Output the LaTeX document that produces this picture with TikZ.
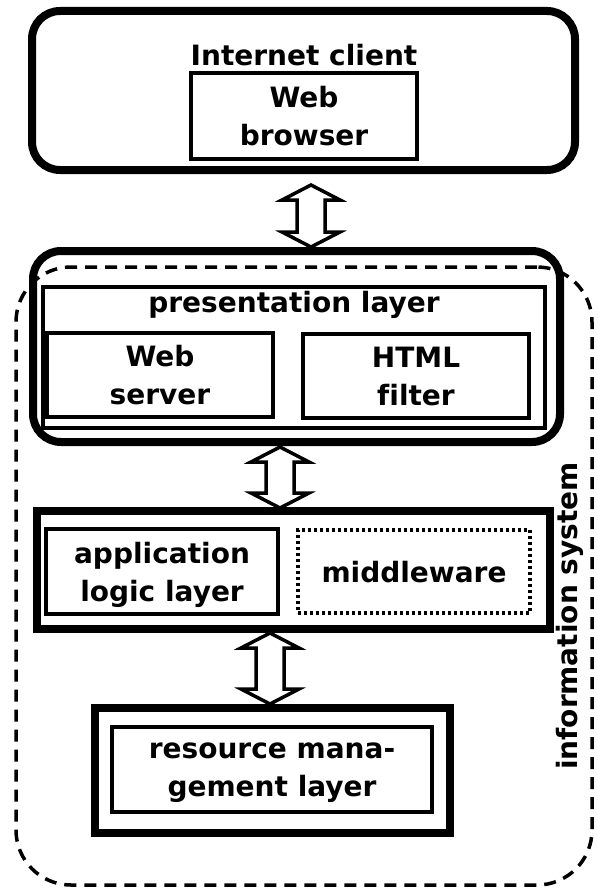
\documentclass[tikz,border=0pt]{standalone}
\usepackage{fontspec}
\setmainfont{DejaVu Sans}[Ligatures=NoCommon]
\begin{document}
\begin{tikzpicture}[x=1pt,y=-1pt,
  txt/.style={font=\fontsize{28}{38}\selectfont\bfseries},
  bigbox/.style={draw,line width=8pt,inner sep=0pt,outer sep=0pt},
  smallbox/.style={draw,line width=3.5pt,inner sep=0pt,outer sep=0pt,align=center,text depth=0pt,txt},
  arrowline/.style={draw,line width=3.5pt,line join=miter,fill=white}]
\useasboundingbox (0,0) rectangle (597,888);
\newcommand\dblarr[3]{%
  \draw[arrowline] (#1,#2) -- (#1+29,#2+15) -- (#1+14,#2+15) -- (#1+14,#3-15) -- (#1+29,#3-15) -- (#1,#3)
     -- (#1-29,#3-15) -- (#1-14,#3-15) -- (#1-14,#2+15) -- (#1-29,#2+15) -- cycle;}
% information system boundary
\node[draw,dash pattern=on 12pt off 8pt,line width=3.5pt,rounded corners=55pt,
      minimum width=576pt,minimum height=618pt,inner sep=0pt] (is) at (304,576) {};
% Internet client
\node[bigbox,rounded corners=28pt,minimum width=543pt,minimum height=159pt] (ic) at (303.5,90.5) {};
\node[txt,anchor=base] (ict) at (304,66) {Internet client};
\node[smallbox,minimum width=226pt,minimum height=86pt] (wb) at (304,116) {Web\\browser};
% presentation
\node[bigbox,rounded corners=28pt,minimum width=527pt,minimum height=191pt] (pres) at (296.5,346.5) {};
\node[draw,line width=3.5pt,inner sep=0pt,minimum width=502pt,minimum height=141pt] (pl) at (294,357.5) {};
\node[txt,anchor=base] (plt) at (294,312) {presentation layer};
\node[smallbox,minimum width=226pt,minimum height=84pt] (ws) at (160,375) {Web\\server};
\node[smallbox,minimum width=226pt,minimum height=84pt] (hf) at (416,376) {HTML\\filter};
% application logic
\node[bigbox,minimum width=513pt,minimum height=118pt] (app) at (293.5,570) {};
\node[smallbox,minimum width=232pt,minimum height=85pt] (al) at (162,571.5) {application\\logic layer};
\node[smallbox,dash pattern=on 3pt off 3pt,minimum width=232pt,minimum height=83pt] (mw) at (414,571.5) {middleware};
% resource management
\node[bigbox,minimum width=355.5pt,minimum height=125pt] (rc) at (272.25,770.5) {};
\node[smallbox,minimum width=320pt,minimum height=85pt] (rm) at (272,769.5) {resource mana-\\gement layer};
% label
\node[txt,rotate=90] (ist) at (570,616) {information system};
% arrows
\dblarr{311}{185}{247}
\dblarr{280}{447}{508}
\dblarr{270}{633}{704}
\end{tikzpicture}
\end{document}
